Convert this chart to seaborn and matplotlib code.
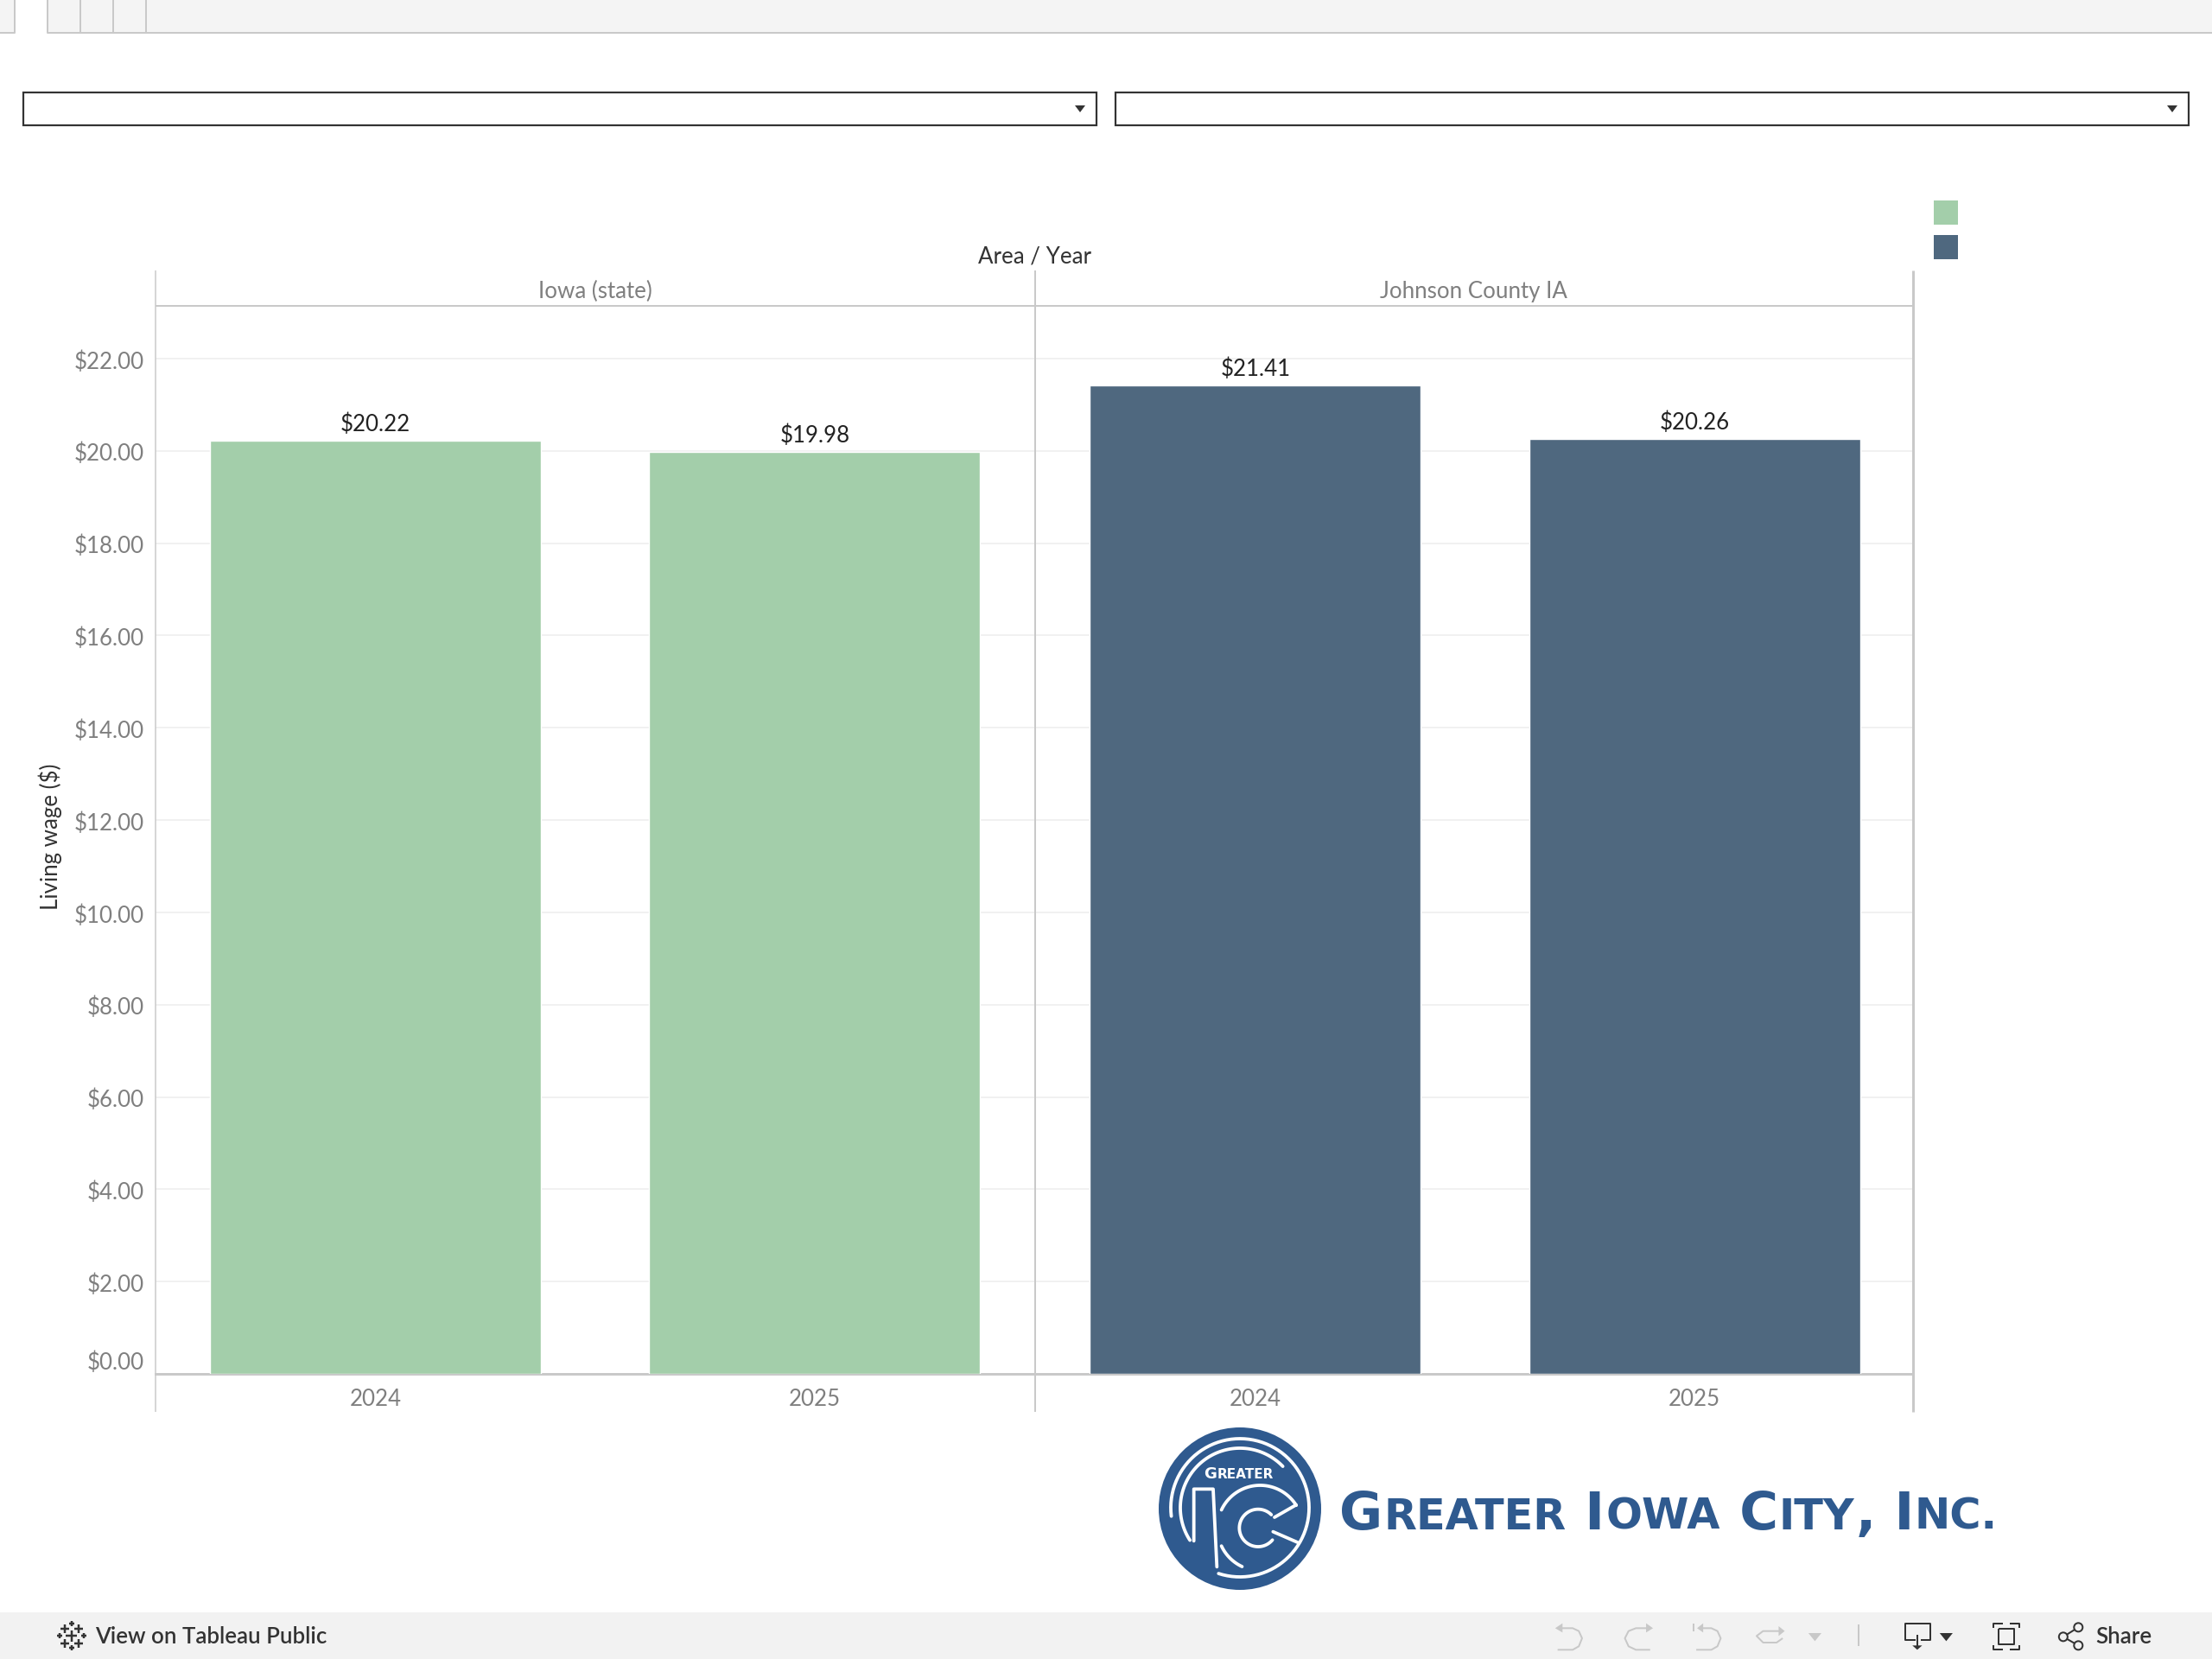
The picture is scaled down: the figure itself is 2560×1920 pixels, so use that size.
# -*- coding: utf-8 -*-
# Living wage: Iowa vs Johnson County (tableau public embed)
import numpy as np
import pandas as pd
import matplotlib.pyplot as plt
from matplotlib.patches import Rectangle, Circle, Polygon
from matplotlib.transforms import ScaledTranslation
import seaborn as sns

#%%
# Datos
areas = ["Iowa (state)", "Johnson County IA"]
years = ["2024", "2025"]
iowa_wage = [20.22, 19.98]
johnson_wage = [21.41, 20.26]
tick_values = [0, 2, 4, 6, 8, 10, 12, 14, 16, 18, 20, 22]
tick_labels = ["$0.00", "$2.00", "$4.00", "$6.00", "$8.00", "$10.00",
               "$12.00", "$14.00", "$16.00", "$18.00", "$20.00", "$22.00"]

GREEN = "#a3ceaa"
SLATE = "#4f687f"
LOGO = "#2f5a8f"
GREY = "#c9c9c9"
DARK = "#333333"
TEXT = "#7f7f7f"
DISABLED = "#c8c8c8"

W, H = 2560, 1920
PX = 0.72  # 1 pixel en puntos (dpi 100)

sns.set_theme(style="white")
plt.rcParams["font.family"] = ["Lato", "DejaVu Sans"]
LABEL = 18.6

#%%
# Paneles
fig, axes = plt.subplots(1, 2, sharey=True, figsize=(W / 100, H / 100), dpi=100)
fig.subplots_adjust(left=180 / W, right=2214 / W, top=1 - 354 / H,
                    bottom=1 - 1590 / H, wspace=0)

for ax, wages, color in zip(axes, [iowa_wage, johnson_wage], [GREEN, SLATE]):
    df = pd.DataFrame({"year": years, "wage": wages})
    sns.barplot(data=df, x="year", y="wage", color=color, saturation=1,
                width=0.753, ax=ax, zorder=3)
    ax.bar_label(ax.containers[0], fmt="${:.2f}", padding=4.5, fontsize=LABEL,
                 color="#222222")
    ax.set_xlim(-0.5, 1.5)
    ax.set_ylim(0, 23.14)
    ax.set_xlabel("")
    ax.set_ylabel("")
    ax.yaxis.grid(True, color="#f1f1f1", lw=2 * PX, zorder=0)
    ax.xaxis.grid(False)
    sns.despine(ax=ax, top=True, right=True, left=True)
    ax.spines["bottom"].set_color(GREY)
    ax.spines["bottom"].set_linewidth(3 * PX)
    ax.tick_params(axis="x", length=0, pad=12.5, labelsize=LABEL, labelcolor=TEXT)
axes[1].set_xlim(-0.503, 1.497)

axes[0].set_yticks(tick_values, tick_labels)
axes[0].tick_params(axis="y", length=8 * PX, width=2 * PX, color="#f1f1f1",
                    pad=4, labelsize=LABEL, labelcolor=TEXT)
axes[1].tick_params(axis="y", length=0, labelleft=False)
# las etiquetas de tableau quedan un poco mas abajo, salvo el cero
nudge = ScaledTranslation(0, -1.5 / 100, fig.dpi_scale_trans)
for lab in axes[0].get_yticklabels()[1:]:
    lab.set_transform(lab.get_transform() + nudge)
axes[0].get_yticklabels()[0].set_va("bottom")

axes[0].set_ylabel("Living wage ($)", fontsize=LABEL, color=DARK)
axes[0].yaxis.set_label_coords(-108 / 1017, 0.503)

#%%
# Capa en pixeles: cabecera, filtros, leyenda, logo y barra inferior
ui = fig.add_axes([0, 0, 1, 1], zorder=5)
ui.set_xlim(0, W)
ui.set_ylim(H, 0)
ui.axis("off")
ui.patch.set_alpha(0)

def line(xs, ys, color=GREY, lw=2, **kw):
    ui.plot(xs, ys, color=color, lw=lw * PX, solid_capstyle=kw.pop("cap", "butt"),
            solid_joinstyle="round", **kw)

def box(x0, y0, x1, y1, **kw):
    ui.add_patch(Rectangle((x0, y0), x1 - x0, y1 - y0, **kw))

def arc_pts(cx, cy, r, a0, a1):
    a = np.radians(np.linspace(a0, a1, 80))
    return cx + r * np.cos(a), cy - r * np.sin(a)

# marcos del grafico
line([180, 180], [313, 1634], lw=1.5)
line([1198, 1198], [313, 1634], lw=2)
line([2214, 2214], [313, 1634], lw=3)
line([180, 2214], [354, 354], lw=2)

ui.text(1197, 297, "Area / Year", ha="center", va="center", fontsize=LABEL,
        color=DARK)
ui.text(689, 337, areas[0], ha="center", va="center", fontsize=LABEL, color=TEXT)
ui.text(1705, 337, areas[1], ha="center", va="center", fontsize=LABEL, color=TEXT)

# barra superior
box(0, 0, 17, 37, fc="#f4f4f4", ec="none")
box(55, 0, W, 37, fc="#f4f4f4", ec="none")
line([0, 17, 17], [38, 38, 0], lw=2)
line([55, 55, W], [0, 38, 38], lw=2)
for x in [93, 131, 169]:
    line([x, x], [0, 38], lw=2)

# filtros vacios
for x0, x1 in [(27, 1269), (1291, 2533)]:
    box(x0, 107, x1, 145, fc="white", ec=DARK, lw=2.2 * PX)
    ui.add_patch(Polygon([(x1 - 25, 122), (x1 - 13, 122), (x1 - 19, 130)], fc=DARK, ec="none"))

# leyenda sin texto
box(2238, 232, 2266, 260, fc=GREEN, ec="none")
box(2238, 272, 2266, 300, fc=SLATE, ec="none")

# logo
ui.add_patch(Circle((1435, 1746), 94, fc=LOGO, ec="none"))

def z(px, py):
    return 1330 + px / 3, 1640 + py / 3

def logo_stroke(pts):
    p = np.array([z(*q) for q in pts])
    line(p[:, 0], p[:, 1], color="white", lw=3.8, cap="round")

def logo_arc(r, a0, a1, cx=315, cy=315):
    x, y = arc_pts(cx, cy, r, a0, a1)
    logo_stroke(list(zip(x, y)))

logo_arc(240, 187, -108)
logo_arc(207, 213, 44)
logo_stroke([(155, 430), (155, 250), (222, 250), (235, 520)])
logo_arc(148, 32, 155, 385, 385)
logo_arc(148, 205, 245, 385, 385)
logo_arc(65, 45, 320, 378, 385)
logo_stroke([(435, 348), (510, 305)])
logo_stroke([(430, 398), (515, 435)])

def small_caps(x, base, pieces, big, small, color):
    # cada trozo en mayuscula grande o chica, uno tras otro
    rend = fig.canvas.get_renderer()
    for piece, is_big in pieces:
        t = ui.text(x, base, piece, ha="left", va="baseline", color=color,
                    fontsize=big if is_big else small, fontweight="bold",
                    family="DejaVu Sans")
        x = ui.transData.inverted().transform(t.get_window_extent(rend).get_points())[1][0] + 1

small_caps(1393, 1711, [("G", 1), ("REATER", 0)], 13, 11, "white")
small_caps(1550, 1770, [("G", 1), ("REATER", 0), (" I", 1), ("OWA", 0), (" C", 1),
                        ("ITY", 0), (", I", 1), ("NC.", 0)], 44, 35.6, LOGO)

# barra inferior
box(0, 1866, W, H, fc="#f2f2f2", ec="none")

def plus(zx, zy, s, lw):
    cx, cy = 60 + zx / 3, 1870 + zy / 3
    line([cx - s / 3, cx + s / 3], [cy, cy], color=DARK, lw=lw)
    line([cx, cx], [cy - s / 3, cy + s / 3], color=DARK, lw=lw)

plus(68, 70, 20, 2.5)
for zx, zy in [(44, 45), (92, 45), (44, 95), (92, 95)]:
    plus(zx, zy, 15, 2.5)
for zx, zy in [(68, 26), (68, 110), (26, 70), (110, 70)]:
    plus(zx, zy, 9, 2.5)

ui.text(110, 1895, "View on Tableau Public", ha="left", va="center", fontsize=LABEL,
        color=DARK, fontweight="semibold")
ui.text(2425, 1895, "Share", ha="left", va="center", fontsize=LABEL, color=DARK,
        fontweight="semibold")

def t(px, py):
    return 1780 + px / 2.119, 1866 + py / 3

def icon(pts, color=DISABLED, lw=2):
    p = np.array([t(*q) for q in pts])
    line(p[:, 0], p[:, 1], color=color, lw=lw)

def tri(pts, color=DISABLED):
    ui.add_patch(Polygon([t(*q) for q in pts], fc=color, ec="none"))

icon([(48, 55), (85, 55), (100, 65), (108, 90), (100, 118), (85, 130), (48, 130)])
tri([(60, 38), (42, 55), (60, 70)])
icon([(275, 55), (240, 55), (222, 65), (213, 90), (222, 118), (240, 130), (275, 130)])
tri([(265, 38), (282, 55), (265, 70)])
icon([(395, 55), (425, 55), (440, 65), (448, 90), (440, 118), (425, 130), (388, 130)])
icon([(382, 38), (382, 65)])
tri([(405, 38), (390, 55), (405, 70)])
icon([(598, 65), (552, 65), (536, 82), (552, 105), (585, 105), (600, 90)])
tri([(590, 48), (605, 65), (590, 82)])
tri([(663, 72), (695, 72), (679, 100)])
icon([(786, 42), (786, 118)])

icon([(925, 95), (900, 95), (900, 40), (962, 40), (962, 95), (938, 95)], DARK)
icon([(930, 78), (930, 118)], DARK)
tri([(918, 115), (942, 115), (930, 130)], DARK)
tri([(985, 72), (1017, 72), (1001, 100)], DARK)
icon([(1130, 57), (1168, 57), (1168, 112), (1130, 112), (1130, 57)], DARK)
icon([(1117, 55), (1117, 38), (1140, 38)], DARK)
icon([(1158, 38), (1180, 38), (1180, 55)], DARK)
icon([(1117, 113), (1117, 130), (1140, 130)], DARK)
icon([(1158, 130), (1180, 130), (1180, 113)], DARK)

icon([(1325, 52), (1288, 85), (1325, 115)], DARK)
for q in [(1325, 52), (1288, 85), (1325, 115)]:
    ui.add_patch(Circle(t(*q), 5, fc="#f2f2f2", ec=DARK, lw=2 * PX, zorder=4))

fig.savefig("out.png", dpi=100)
